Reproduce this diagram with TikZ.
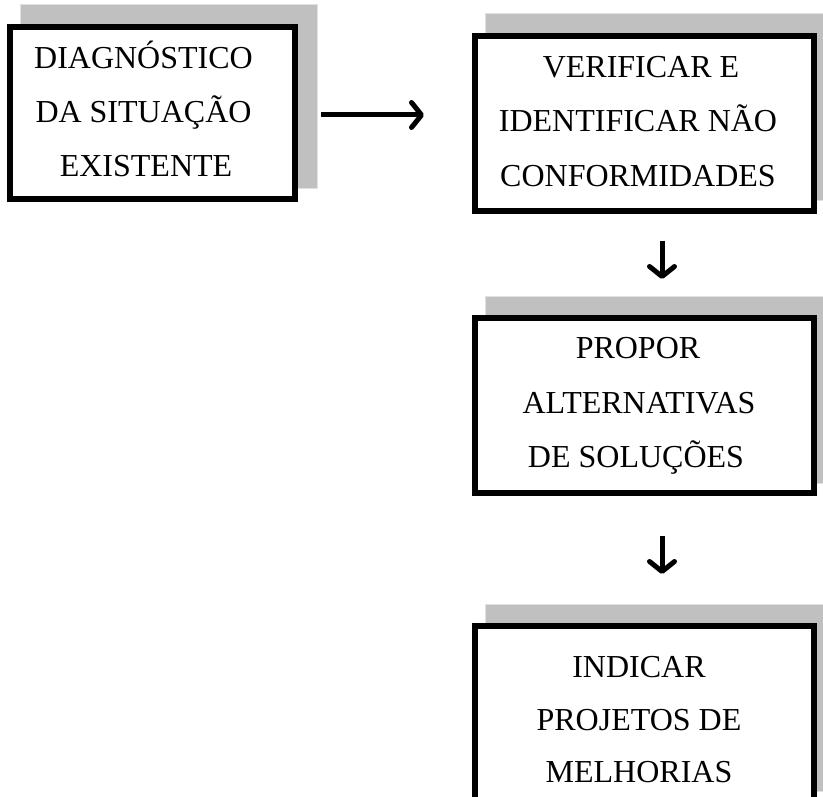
\documentclass[tikz,border=0pt]{standalone}
\usepackage{fontspec}
\setmainfont{Liberation Serif}
\usetikzlibrary{arrows.meta}
\definecolor{shadefill}{RGB}{192,192,192}
\definecolor{shadeedge}{RGB}{225,225,225}
\tikzset{
  stepbox/.style={draw=black, line width=6pt, fill=white, minimum height=175pt, inner sep=0pt},
  boxshade/.style={fill=shadefill, draw=shadeedge, line width=1pt},
  txt/.style={anchor=base, inner sep=0pt, font=\fontsize{32}{36}\selectfont},
  flow/.style={line width=5pt, -{Straight Barb[length=10pt, width=25pt, line width=5pt, line cap=round, round]}}
}
\begin{document}
\begin{tikzpicture}[x=1pt,y=-1pt]
\useasboundingbox (0,0) rectangle (823,797);
\clip (0,0) rectangle (823,797);
% box outlines (named)
\path (152.5,113) node[stepbox, minimum width=285pt, minimum height=172pt] (b1) {};
\path (644.5,123.5) node[stepbox, minimum width=339pt] (b2) {};
\path (644.5,405.5) node[stepbox, minimum width=339pt] (b3) {};
\path (644.5,713.5) node[stepbox, minimum width=339pt] (b4) {};
% shadows
\foreach \b in {b1,b2,b3,b4}{
  \draw[boxshade] ([shift={(13,-13)}]\b.south west) rectangle ([shift={(19,-19)}]\b.north east);
}
% boxes on top of shadows
\path (152.5,113) node[stepbox, minimum width=285pt, minimum height=172pt] {};
\path (644.5,123.5) node[stepbox, minimum width=339pt] {};
\path (644.5,405.5) node[stepbox, minimum width=339pt] {};
\path (644.5,713.5) node[stepbox, minimum width=339pt] {};
% texts
\node[txt] (t11) at (143.5,69) {DIAGNÓSTICO};
\node[txt] (t12) at (143.5,123) {DA SITUAÇÃO};
\node[txt] (t13) at (146,177) {EXISTENTE};
\node[txt] (t21) at (641,78) {VERIFICAR E};
\node[txt] (t22) at (638,132) {IDENTIFICAR NÃO};
\node[txt] (t23) at (638,187) {CONFORMIDADES};
\node[txt] (t31) at (638,358) {PROPOR};
\node[txt] (t32) at (639,413) {ALTERNATIVAS};
\node[txt] (t33) at (636,467) {DE SOLUÇÕES};
\node[txt] (t41) at (639,677) {INDICAR};
\node[txt] (t42) at (639,730) {PROJETOS DE};
\node[txt] (t43) at (639,782) {MELHORIAS};
% connectors
\draw[flow, shorten <=23pt, shorten >=48pt] (b1.east |- 0,115) -- (b2.west |- 0,115);
\draw[flow, shorten <=27pt, shorten >=36pt] ([xshift=17.5pt]b2.south) -- ([xshift=17.5pt]b3.north);
\draw[flow, shorten <=40pt, shorten >=49pt] ([xshift=17.5pt]b3.south) -- ([xshift=17.5pt]b4.north);
\end{tikzpicture}
\end{document}
